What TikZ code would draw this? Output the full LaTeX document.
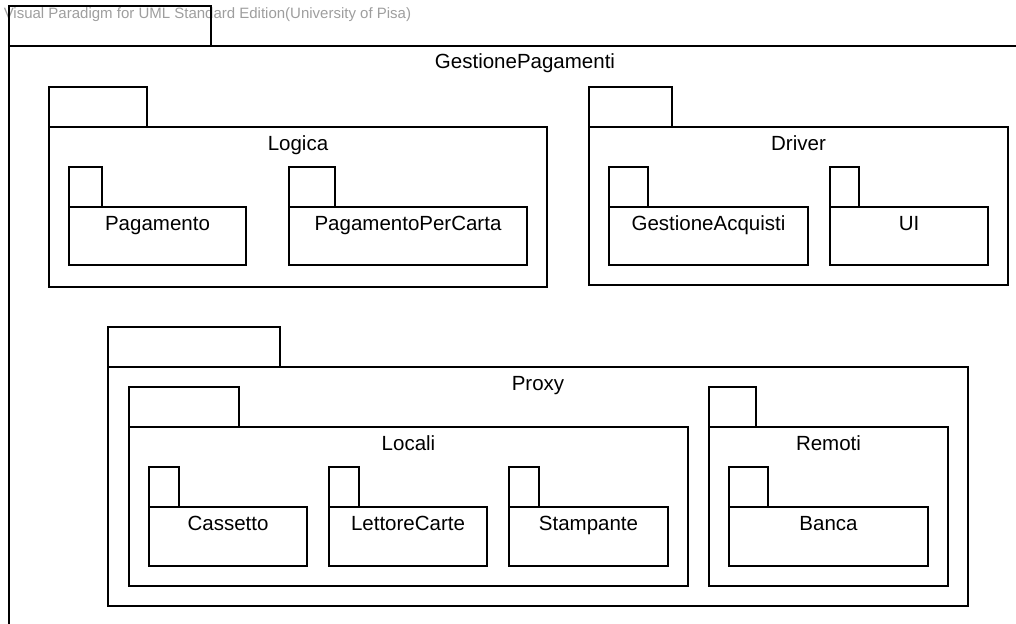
\documentclass[tikz,border=0pt]{standalone}
\usepackage{fontspec}
\setmainfont{Liberation Sans}
\usepackage{tikz}
\usetikzlibrary{fit}

\begin{document}
\begin{tikzpicture}[x = 1pt, y = -1pt, line width = 1.5pt,
                        pkg/.style = {draw, inner sep = 0pt, outer sep = 0pt},
                        pkgname/.style = {anchor = base, inner sep = 0pt, font = \fontsize{20.5}{24}\selectfont},
                        watermark/.style = {anchor = west, inner sep = 0pt, text = black!38, font = \fontsize{15}{17}\selectfont}]
      \useasboundingbox (0, 0) rectangle (1016, 623);
      \clip (0, 0) rectangle (1016, 623);

      \node [watermark] (vp) at (3, 15) {Visual Paradigm for UML Standard Edition(University of Pisa)};

      % GestionePagamenti
      \node [pkg, fit = {(9, 6) (211, 46)}] (gptab) {};
      \node [pkg, fit = {(9, 46) (1041, 640)}] (gp) {};
      \node [pkgname] (gpname) at (525, 69) {GestionePagamenti};

      % Logica
      \node [pkg, fit = {(49, 87) (147, 127)}] (logicatab) {};
      \node [pkg, fit = {(49, 127) (547, 287)}] (logica) {};
      \node [pkgname] (logicaname) at ([yshift = -23pt] logica.north) {Logica};

      \node [pkg, fit = {(69, 167) (102, 207)}] (pagamentotab) {};
      \node [pkg, fit = {(69, 207) (246, 265)}] (pagamento) {};
      \node [pkgname] (pagamentoname) at ([yshift = -23pt] pagamento.north) {Pagamento};

      \node [pkg, fit = {(289, 167) (335, 207)}] (cartatab) {};
      \node [pkg, fit = {(289, 207) (527, 265)}] (carta) {};
      \node [pkgname] (cartaname) at ([yshift = -23pt] carta.north) {PagamentoPerCarta};

      % Driver
      \node [pkg, fit = {(589, 87) (672, 127)}] (drivertab) {};
      \node [pkg, fit = {(589, 127) (1008, 285)}] (driver) {};
      \node [pkgname] (drivername) at ([yshift = -23pt] driver.north) {Driver};

      \node [pkg, fit = {(609, 167) (648, 207)}] (acquistitab) {};
      \node [pkg, fit = {(609, 207) (808, 265)}] (acquisti) {};
      \node [pkgname] (acquistiname) at ([yshift = -23pt] acquisti.north) {GestioneAcquisti};

      \node [pkg, fit = {(830, 167) (859, 207)}] (uitab) {};
      \node [pkg, fit = {(830, 207) (988, 265)}] (ui) {};
      \node [pkgname] (uiname) at ([yshift = -23pt] ui.north) {UI};

      % Proxy
      \node [pkg, fit = {(108, 327) (280, 367)}] (proxytab) {};
      \node [pkg, fit = {(108, 367) (968, 606)}] (proxy) {};
      \node [pkgname] (proxyname) at ([yshift = -23pt] proxy.north) {Proxy};

      \node [pkg, fit = {(129, 387) (239, 427)}] (localitab) {};
      \node [pkg, fit = {(129, 427) (688, 586)}] (locali) {};
      \node [pkgname] (localiname) at ([yshift = -23pt] locali.north) {Locali};

      \node [pkg, fit = {(149, 467) (179, 507)}] (cassettotab) {};
      \node [pkg, fit = {(149, 507) (307, 566)}] (cassetto) {};
      \node [pkgname] (cassettoname) at ([yshift = -23pt] cassetto.north) {Cassetto};

      \node [pkg, fit = {(329, 467) (359, 507)}] (lettoretab) {};
      \node [pkg, fit = {(329, 507) (487, 566)}] (lettore) {};
      \node [pkgname] (lettorename) at ([yshift = -23pt] lettore.north) {LettoreCarte};

      \node [pkg, fit = {(509, 467) (539, 507)}] (stampantetab) {};
      \node [pkg, fit = {(509, 507) (668, 566)}] (stampante) {};
      \node [pkgname] (stampantename) at ([yshift = -23pt] stampante.north) {Stampante};

      \node [pkg, fit = {(709, 387) (756, 427)}] (remotitab) {};
      \node [pkg, fit = {(709, 427) (948, 586)}] (remoti) {};
      \node [pkgname] (remotiname) at ([yshift = -23pt] remoti.north) {Remoti};

      \node [pkg, fit = {(729, 467) (768, 507)}] (bancatab) {};
      \node [pkg, fit = {(729, 507) (928, 566)}] (banca) {};
      \node [pkgname] (bancaname) at ([yshift = -23pt] banca.north) {Banca};

      \end{tikzpicture}
\end{document}
